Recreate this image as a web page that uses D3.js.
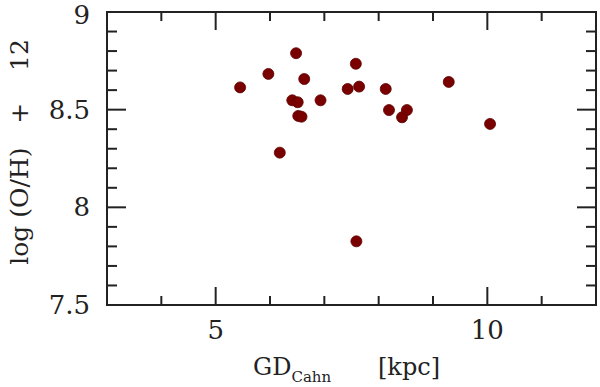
<!DOCTYPE html>
<meta charset="utf-8" />
<style>
  body { margin: 0; background: #fff; }
  text { font-family: "DejaVu Serif", serif; fill: #222; }
</style>
<body>
  <div id="grafico"></div>
  <script src="https://cdn.jsdelivr.net/npm/d3@7"></script>
  <script>
    // galactocentric distance (kpc) and oxygen abundance
    var distancia = [5.45, 5.97, 6.48, 6.63, 6.41, 6.51, 6.52, 6.58, 6.93, 6.18,
                     7.43, 7.58, 7.64, 8.13, 8.19, 8.43, 8.52, 9.29, 10.05, 7.59];
    var abundancia = [8.614, 8.683, 8.789, 8.657, 8.548, 8.538, 8.468, 8.464, 8.548, 8.280,
                      8.606, 8.735, 8.618, 8.606, 8.498, 8.461, 8.498, 8.642, 8.427, 7.826];
    var ticksX = [5, 10];
    var ticksY = [7.5, 8, 8.5, 9];

    var largura = 600, altura = 387;
    var margem = { esq: 107, dir: 4, topo: 12, base: 82 };

    var svg = d3.select("#grafico").append("svg")
      .attr("width", largura)
      .attr("height", altura);

    var x = d3.scaleLinear().domain([3, 12]).range([margem.esq, largura - margem.dir]);
    var y = d3.scaleLinear().domain([7.5, 9]).range([altura - margem.base, margem.topo]);

    var cor = "#222";
    var x0 = x.range()[0], x1 = x.range()[1];
    var y0 = y.range()[0], y1 = y.range()[1];

    // ticks: majors at labelled values, minors every 1 kpc / 0.1 dex
    var menoresX = d3.range(3, 12.01, 1);
    var menoresY = d3.range(7.5, 9.001, 0.1);

    function tamX(v) { return ticksX.indexOf(Math.round(v)) >= 0 ? 18 : 9; }
    function tamY(v) {
      var r = Math.round(v * 10) / 10;
      return Math.abs(r * 2 - Math.round(r * 2)) < 1e-6 ? 19 : 10;
    }

    var g = svg.append("g").attr("stroke", cor).attr("stroke-width", 2);

    g.selectAll(".tx").data(menoresX).enter().append("line")
      .attr("x1", function (d) { return x(d); }).attr("x2", function (d) { return x(d); })
      .attr("y1", y0).attr("y2", function (d) { return y0 - tamX(d); });
    g.selectAll(".txt").data(menoresX).enter().append("line")
      .attr("x1", function (d) { return x(d); }).attr("x2", function (d) { return x(d); })
      .attr("y1", y1).attr("y2", function (d) { return y1 + tamX(d); });
    g.selectAll(".ty").data(menoresY).enter().append("line")
      .attr("y1", function (d) { return y(d); }).attr("y2", function (d) { return y(d); })
      .attr("x1", x0).attr("x2", function (d) { return x0 + tamY(d); });
    g.selectAll(".tyd").data(menoresY).enter().append("line")
      .attr("y1", function (d) { return y(d); }).attr("y2", function (d) { return y(d); })
      .attr("x1", x1).attr("x2", function (d) { return x1 - tamY(d); });

    g.append("rect")
      .attr("x", x0).attr("y", y1)
      .attr("width", x1 - x0).attr("height", y0 - y1)
      .attr("fill", "none");

    // tick labels
    svg.selectAll(".lx").data(ticksX).enter().append("text")
      .attr("x", function (d) { return x(d); })
      .attr("y", y0 + 34)
      .attr("text-anchor", "middle")
      .attr("font-size", "26px")
      .text(function (d) { return d; });

    // top label kept inside the page
    svg.selectAll(".ly").data(ticksY).enter().append("text")
      .attr("x", x0 - 17)
      .attr("y", function (d) { return Math.max(y(d) + 9, 24); })
      .attr("text-anchor", "end")
      .attr("font-size", "26px")
      .text(function (d) { return d; });

    // axis titles
    var tituloX = svg.append("text")
      .attr("x", 253).attr("y", 375)
      .attr("font-size", "24px")
      .attr("xml:space", "preserve");
    tituloX.append("tspan").text("GD");
    tituloX.append("tspan").attr("dy", 7).attr("font-size", "15px").text("Cahn");
    tituloX.append("tspan").attr("x", 378).attr("y", 375).text("[kpc]");

    svg.append("text")
      .attr("transform", "translate(28,152) rotate(-90)")
      .attr("text-anchor", "middle")
      .attr("font-size", "25px")
      .attr("xml:space", "preserve")
      .text("log (O/H)   +    12");

    // points
    svg.append("g").selectAll("circle")
      .data(distancia)
      .enter()
      .append("circle")
      .attr("cx", function (d) { return x(d); })
      .attr("cy", function (d, i) { return y(abundancia[i]); })
      .attr("r", 5.5)
      .attr("fill", "#7a0000")
      .attr("stroke", "#5c0000")
      .attr("stroke-width", 0.8);
  </script>
</body>
